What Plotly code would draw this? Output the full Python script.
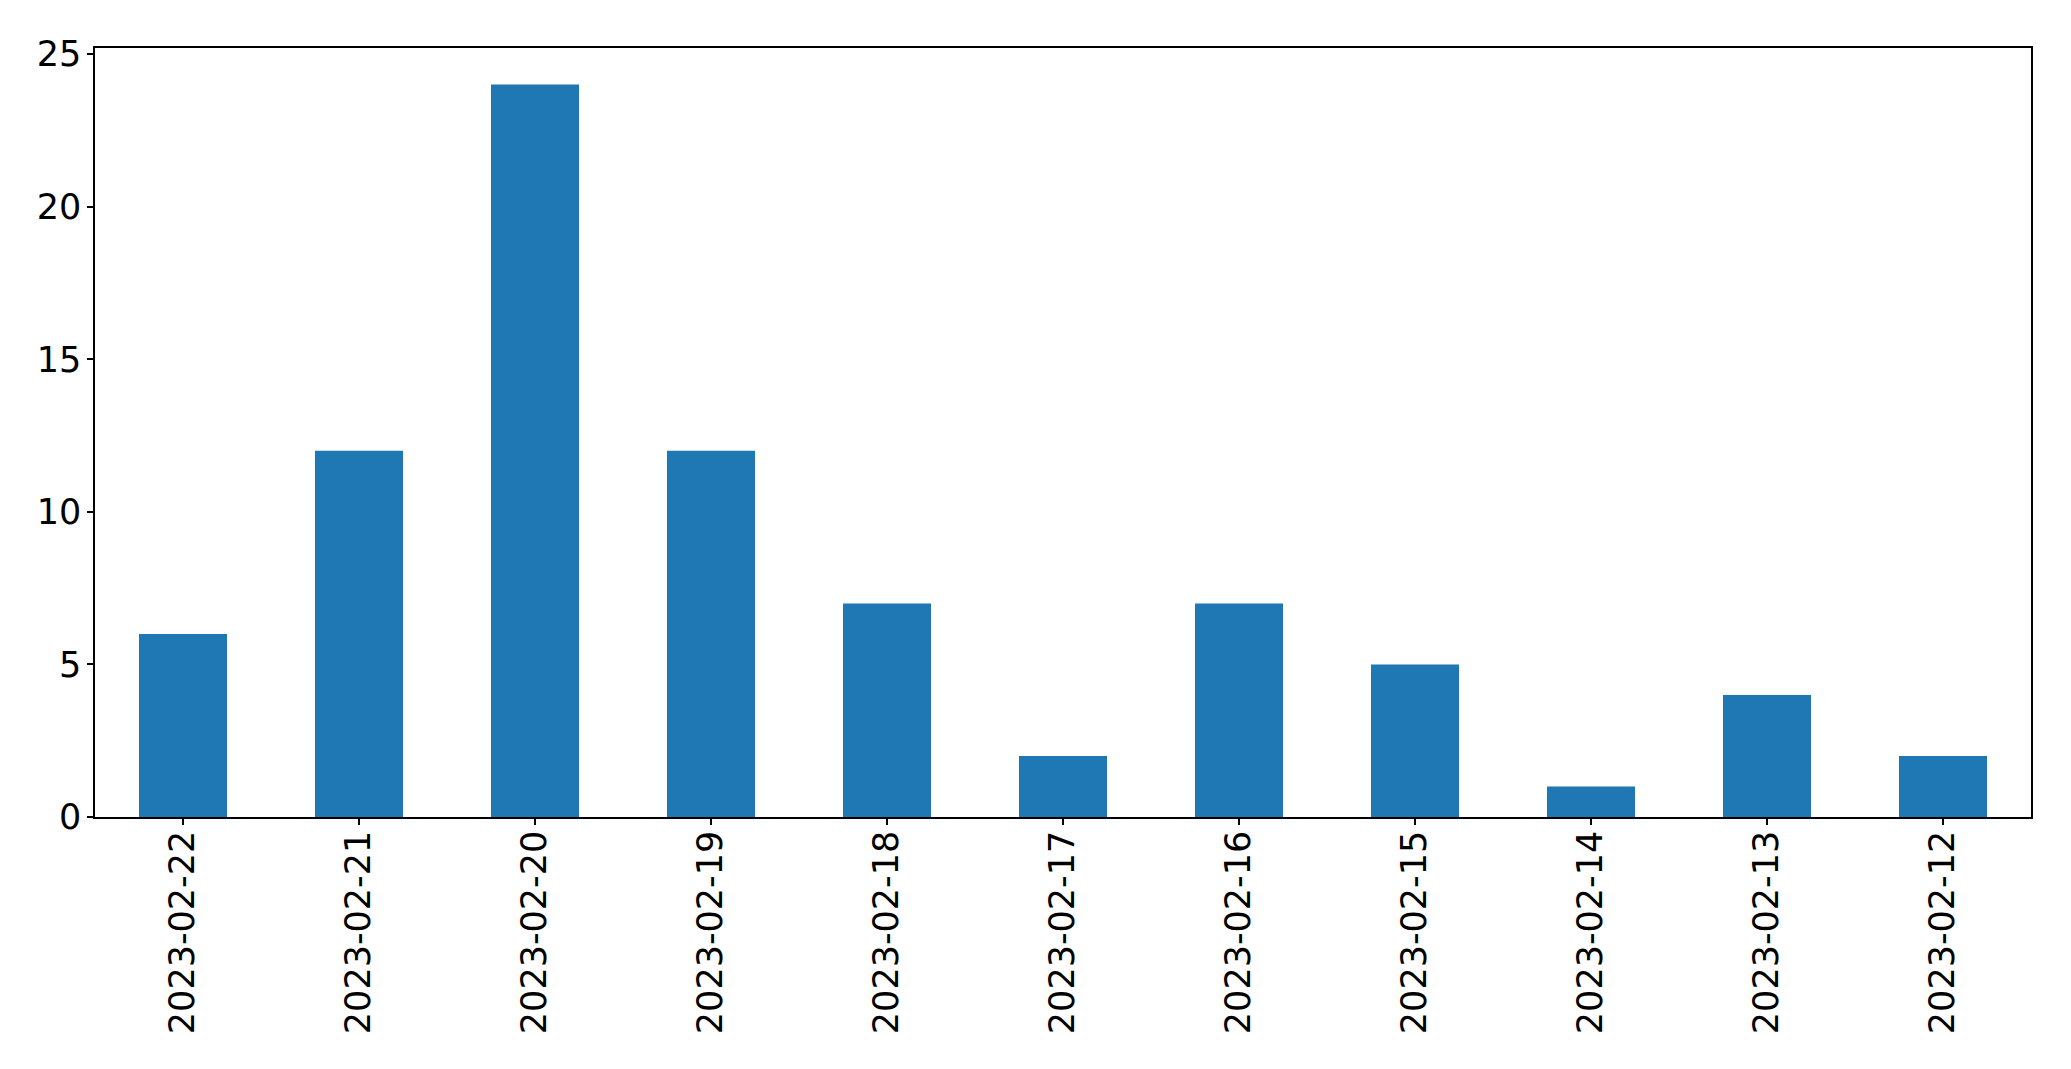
import plotly.graph_objects as go

# daily counts, newest first
dates = [
    "2023-02-22", "2023-02-21", "2023-02-20", "2023-02-19", "2023-02-18",
    "2023-02-17", "2023-02-16", "2023-02-15", "2023-02-14", "2023-02-13",
    "2023-02-12",
]
counts = [6, 12, 24, 12, 7, 2, 7, 5, 1, 4, 2]
y_ticks = [0, 5, 10, 15, 20, 25]

FONT = "DejaVu Sans"

fig = go.Figure(
    go.Bar(
        x=dates,
        y=counts,
        width=0.5,
        marker=dict(color="#1f77b4", line=dict(width=0)),
    )
)

# page body adds an 8px offset, so margins are shifted to compensate
fig.update_layout(
    width=2071,
    height=1069,
    margin=dict(l=87, r=48, t=40, b=260, pad=0),
    paper_bgcolor="white",
    plot_bgcolor="white",
    showlegend=False,
    font=dict(family=FONT, size=35, color="black"),
)

fig.update_xaxes(
    type="category",
    range=[-0.5, len(dates) - 0.5],
    automargin=False,
    tickangle=-90,
    ticks="outside",
    ticklen=6,
    tickwidth=1.5,
    tickcolor="black",
    ticklabelstandoff=-8,
    showline=True,
    linecolor="black",
    linewidth=1.5,
    mirror=True,
    showgrid=False,
    zeroline=False,
)

fig.update_yaxes(
    range=[0, 25.2],
    tickvals=y_ticks,
    automargin=False,
    ticks="outside",
    ticklen=6,
    tickwidth=1.5,
    tickcolor="black",
    ticklabelstandoff=-1,
    showline=True,
    linecolor="black",
    linewidth=1.5,
    mirror=True,
    showgrid=False,
    zeroline=False,
)

fig.write_html("out.html")
